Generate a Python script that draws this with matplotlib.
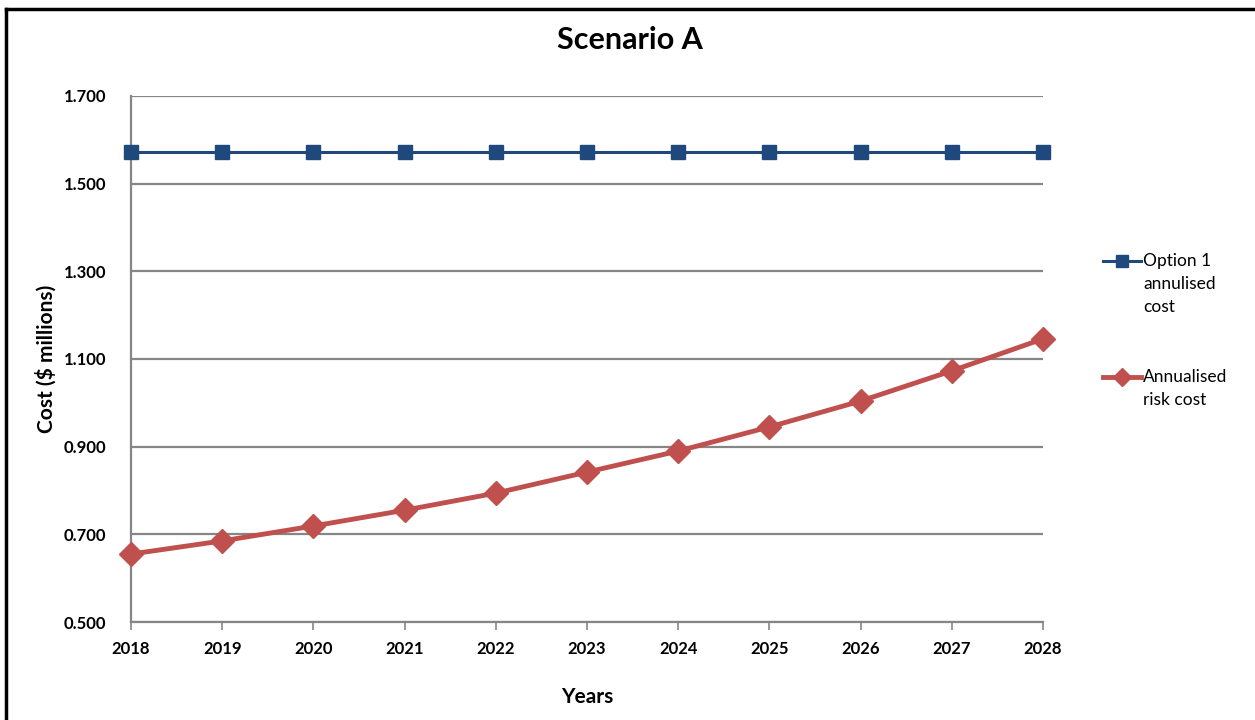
import matplotlib.pyplot as plt
from matplotlib.lines import Line2D

plt.rcParams['font.family'] = ['Lato', 'DejaVu Sans']

years = [2018, 2019, 2020, 2021, 2022, 2023, 2024, 2025, 2026, 2027, 2028]
option1_cost = [1.572] * len(years)
risk_cost = [0.655, 0.685, 0.719, 0.755, 0.794, 0.842, 0.890, 0.945, 1.004, 1.073, 1.146]
y_ticks = [0.5, 0.7, 0.9, 1.1, 1.3, 1.5, 1.7]

blue = '#1f497d'
red = '#c0504d'
grey = '#868686'

fig = plt.figure(figsize=(12.55, 7.2), dpi=100)
ax = fig.add_axes([0.1044, 0.1361, 0.7267, 0.7306])

ax.plot(years, option1_cost, color=blue, lw=2.2, marker='s', ms=10.5, zorder=3, clip_on=False)
ax.plot(years, risk_cost, color=red, lw=3.5, marker='D', ms=12, zorder=3, clip_on=False)

ax.set_xlim(2018, 2028)
ax.set_ylim(0.5, 1.7)
ax.set_xticks(years)
ax.set_yticks(y_ticks)
ax.set_yticklabels([f'{v:.3f}' for v in y_ticks])
ax.grid(axis='y', color=grey, lw=1.6)
ax.set_axisbelow(True)

for side in ['top', 'right']:
    ax.spines[side].set_visible(False)
for side in ['left', 'bottom']:
    ax.spines[side].set_color(grey)
    ax.spines[side].set_linewidth(1.6)
ax.tick_params(axis='x', direction='out', length=6, color=grey, width=1.2, pad=8)
ax.tick_params(axis='y', length=0, pad=18)
for lbl in ax.get_xticklabels() + ax.get_yticklabels():
    lbl.set_fontweight('bold')
    lbl.set_fontsize(12)

ax.set_xlabel('Years', fontsize=15, fontweight='bold', labelpad=21)
ax.set_ylabel('Cost ($ millions)', fontsize=15, fontweight='bold', labelpad=5)
fig.text(0.502, 0.945, 'Scenario A', ha='center', va='center', fontsize=22, fontweight='bold')

# legend drawn by hand so the key sits beside the first text line
legend_items = [
    (blue, 's', 2.2, 8, ['Option 1', 'annulised', 'cost'], 261),
    (red, 'D', 3.5, 9, ['Annualised', 'risk cost'], 377),
]
for color, marker, lw, ms, lines, ypx in legend_items:
    y = 1 - ypx / 720
    fig.add_artist(Line2D([1103 / 1255, 1141 / 1255], [y, y], color=color, lw=lw))
    fig.add_artist(Line2D([1122 / 1255], [y], color=color, marker=marker, ms=ms, lw=0))
    for i, txt in enumerate(lines):
        fig.text(1143 / 1255, 1 - (ypx + 23 * i) / 720, txt, ha='left', va='center', fontsize=12.5)

# outer frame
fig.add_artist(Line2D([6 / 1255, 6 / 1255], [0, 1 - 9 / 720], color='black', lw=2.5))
fig.add_artist(Line2D([6 / 1255, 1], [1 - 9 / 720, 1 - 9 / 720], color='black', lw=2.5))

fig.savefig('out.png', dpi=100, facecolor='white')
